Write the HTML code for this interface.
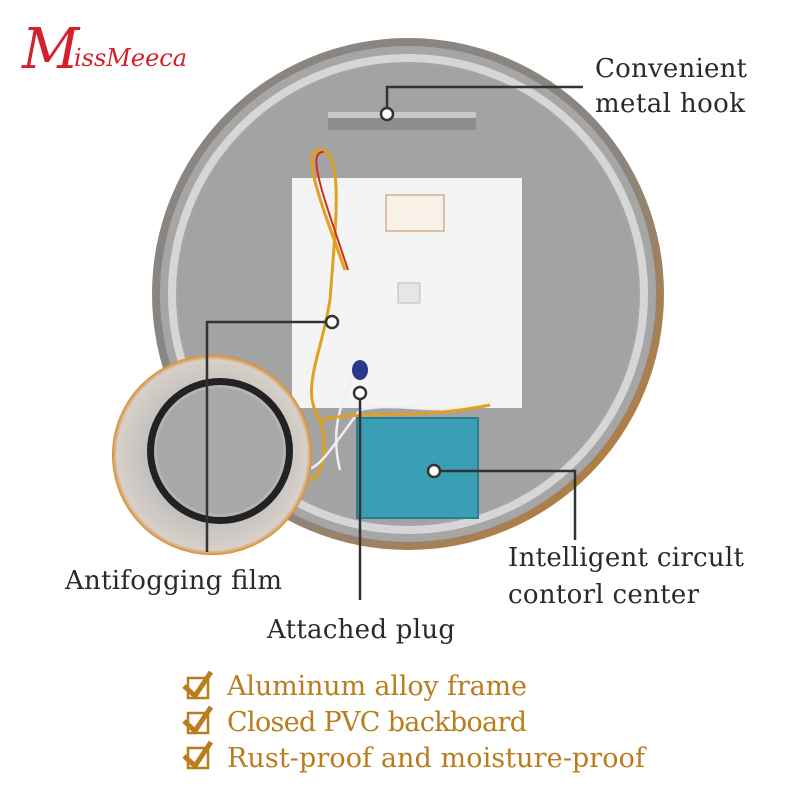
<!DOCTYPE html>
<html><head><meta charset="utf-8"><style>
html,body{margin:0;padding:0;background:#fff}
svg{display:block}
text{font-family:"DejaVu Serif","Liberation Serif",serif}
</style></head><body>
<svg width="800" height="800" viewBox="0 0 800 800" xmlns="http://www.w3.org/2000/svg">
<defs>
<radialGradient id="rim" cx="0.45" cy="0.45" r="0.6">
<stop offset="0.85" stop-color="#8a8580"/><stop offset="1" stop-color="#c77a20"/>
</radialGradient>
<radialGradient id="small" cx="0.5" cy="0.5" r="0.5">
<stop offset="0.6" stop-color="#bdbdbd"/><stop offset="0.95" stop-color="#d8d0c8"/><stop offset="1" stop-color="#d98a2a"/>
</radialGradient>
</defs>
<text x="22" y="68" font-size="56" fill="#d4202a" font-style="italic" font-family="Liberation Serif,serif">M</text>
<text x="74" y="66" font-size="24" fill="#d4202a" font-style="italic" font-family="Liberation Serif,serif">issMeeca</text>
<circle cx="408" cy="294" r="256" fill="url(#rim)"/>
<circle cx="408" cy="294" r="248" fill="#a6a6a6"/>
<circle cx="408" cy="294" r="236" fill="none" stroke="#d6d6d6" stroke-width="8"/>
<circle cx="408" cy="294" r="230" fill="#a3a3a3"/>
<rect x="328" y="112" width="148" height="18" fill="#8d8d8d"/>
<rect x="328" y="112" width="148" height="6" fill="#c8c8c8"/>
<rect x="292" y="178" width="230" height="230" fill="#f4f4f4"/>
<rect x="386" y="195" width="58" height="36" fill="#f8f1e8" stroke="#c98a60" stroke-width="1"/>
<rect x="398" y="283" width="22" height="20" fill="#e6e6e6" stroke="#bbb"/>
<path d="M345 270 C320 200 300 150 320 150 C345 150 335 230 330 300 C320 360 300 390 320 420 C330 450 320 480 310 480" fill="none" stroke="#e0a020" stroke-width="3"/>
<path d="M348 270 C325 200 305 150 324 152" fill="none" stroke="#d03020" stroke-width="2"/>
<path d="M360 365 C340 400 330 430 340 470 M300 472 C320 470 330 450 360 410 C400 400 450 420 490 400" fill="none" stroke="#eee" stroke-width="2.5"/>
<path d="M320 420 C360 410 420 420 490 405" fill="none" stroke="#e0a020" stroke-width="3"/>
<ellipse cx="360" cy="370" rx="8" ry="10" fill="#2a3a8a"/>
<rect x="357" y="418" width="121" height="100" fill="#3a9fb4"/>
<rect x="357" y="418" width="121" height="100" fill="none" stroke="#2a7f94" stroke-width="2"/>
<circle cx="212" cy="455" r="100" fill="url(#small)"/>
<circle cx="220" cy="451" r="73" fill="#222"/>
<circle cx="220" cy="451" r="66" fill="#b4b4b4"/>
<circle cx="220" cy="451" r="63" fill="#a8a8a8"/>
<g stroke="#333" stroke-width="2.5" fill="none">
<path d="M387 114 V87 H583"/>
<path d="M332 322 H207 V552"/>
<path d="M360 393 V600"/>
<path d="M434 471 H575 V540"/>
</g>
<g fill="#fff" stroke="#333" stroke-width="2.5">
<circle cx="387" cy="114" r="6"/>
<circle cx="332" cy="322" r="6"/>
<circle cx="360" cy="393" r="6"/>
<circle cx="434" cy="471" r="6"/>
</g>
<g fill="#2a2a2a" font-size="26" lengthAdjust="spacingAndGlyphs">
<text x="595" y="77" textLength="152">Convenient</text>
<text x="595" y="112" textLength="150">metal hook</text>
<text x="65" y="589" textLength="217">Antifogging film</text>
<text x="508" y="566" textLength="236">Intelligent circult</text>
<text x="508" y="603" textLength="191">contorl center</text>
<text x="267" y="638" textLength="188">Attached plug</text>
</g>
<g fill="#b97d1e" font-size="27" lengthAdjust="spacingAndGlyphs">
<text x="227" y="695" textLength="300">Aluminum alloy frame</text>
<text x="227" y="731" textLength="300">Closed PVC backboard</text>
<text x="227" y="767" textLength="418">Rust-proof and moisture-proof</text>
</g>
<g stroke="#b97d1e" fill="none">
<rect x="188" y="678" width="20" height="20" stroke-width="2.5"/>
<rect x="188" y="713" width="20" height="20" stroke-width="2.5"/>
<rect x="188" y="748" width="20" height="20" stroke-width="2.5"/>
<path d="M184 686 L195 696 L211 672" stroke-width="5"/>
<path d="M184 721 L195 731 L211 707" stroke-width="5"/>
<path d="M184 756 L195 766 L211 742" stroke-width="5"/>
</g>
</svg>
</body></html>
